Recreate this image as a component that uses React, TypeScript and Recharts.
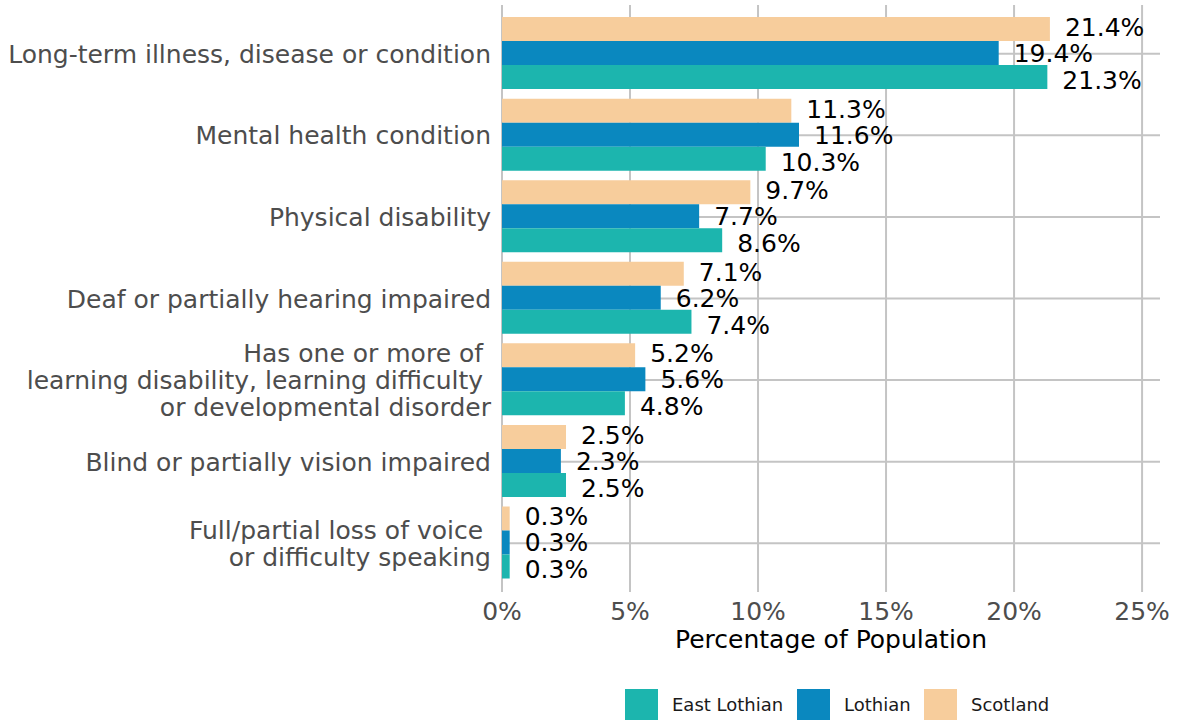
import React from "react";
import {
  BarChart,
  Bar,
  XAxis,
  YAxis,
  CartesianGrid,
  LabelList,
} from "recharts";

// Condition categories, top to bottom
const categories: string[] = [
  "Long-term illness, disease or condition",
  "Mental health condition",
  "Physical disability",
  "Deaf or partially hearing impaired",
  "Has one or more of \nlearning disability, learning difficulty \nor developmental disorder",
  "Blind or partially vision impaired",
  "Full/partial loss of voice \nor difficulty speaking",
];

// Percentage of population per area
const scotland: number[] = [21.4, 11.3, 9.7, 7.1, 5.2, 2.5, 0.3];
const lothian: number[] = [19.4, 11.6, 7.7, 6.2, 5.6, 2.3, 0.3];
const eastLothian: number[] = [21.3, 10.3, 8.6, 7.4, 4.8, 2.5, 0.3];

const xTicks: number[] = [0, 5, 10, 15, 20, 25];

const COLORS = {
  eastLothian: "#1CB5AE",
  lothian: "#0A88BF",
  scotland: "#F7CD9C",
};

const FONT = "'DejaVu Sans', sans-serif";
const TEXT_SIZE = 25;

const data = categories.map((category, i) => ({
  category,
  scotland: scotland[i],
  lothian: lothian[i],
  eastLothian: eastLothian[i],
}));

const legendItems = [
  { name: "East Lothian", color: COLORS.eastLothian, keyLeft: 625, textLeft: 672 },
  { name: "Lothian", color: COLORS.lothian, keyLeft: 797, textLeft: 844 },
  { name: "Scotland", color: COLORS.scotland, keyLeft: 924, textLeft: 971 },
];

const CategoryTick = (props: any) => {
  const { x, y, payload } = props;
  const lines: string[] = String(payload.value).split("\n");
  const lineHeight = 27;
  const firstDy = -((lines.length - 1) / 2) * lineHeight + 9;
  return (
    <text
      x={x}
      y={y}
      textAnchor="end"
      fill="#4D4D4D"
      fontSize={TEXT_SIZE}
      fontFamily={FONT}
      style={{ whiteSpace: "pre" }}
    >
      {lines.map((line, i) => (
        <tspan key={i} x={x} dy={i === 0 ? firstDy : lineHeight}>
          {line}
        </tspan>
      ))}
    </text>
  );
};

const fmtPct = (v: any) => `${Number(v).toFixed(1)}%`;

const valueLabelProps = {
  position: "right" as const,
  offset: 15,
  fill: "#000000",
  fontSize: TEXT_SIZE,
  fontFamily: FONT,
  formatter: fmtPct,
};

export default function App() {
  return (
    <div
      style={{
        position: "absolute",
        left: 0,
        top: 0,
        width: 1179,
        height: 720,
        overflow: "hidden",
        background: "#ffffff",
        fontFamily: FONT,
      }}
    >
      <BarChart
        width={1179}
        height={720}
        data={data}
        layout="vertical"
        margin={{ top: 5, right: 19, bottom: 68, left: 0 }}
        barCategoryGap="5%"
        barGap={0}
      >
        <CartesianGrid stroke="#C4C4C4" strokeWidth={2} syncWithTicks />
        <XAxis
          type="number"
          domain={[0, 25.7]}
          ticks={xTicks}
          allowDataOverflow
          tickFormatter={(v: number) => `${v}%`}
          axisLine={false}
          tickLine={false}
          tickSize={0}
          tickMargin={10}
          height={60}
          tick={{ fill: "#4D4D4D", fontSize: TEXT_SIZE, fontFamily: FONT }}
          label={{
            value: "Percentage of Population",
            position: "insideBottom",
            offset: 4,
            fill: "#000000",
            fontSize: TEXT_SIZE,
            fontFamily: FONT,
          }}
        />
        <YAxis
          type="category"
          dataKey="category"
          width={502}
          interval={0}
          axisLine={false}
          tickLine={false}
          tickSize={0}
          tickMargin={11}
          padding={{ top: 8, bottom: 8 }}
          tick={<CategoryTick />}
        />
        <Bar dataKey="scotland" name="Scotland" fill={COLORS.scotland} isAnimationActive={false}>
          <LabelList dataKey="scotland" {...valueLabelProps} dy={-2} />
        </Bar>
        <Bar dataKey="lothian" name="Lothian" fill={COLORS.lothian} isAnimationActive={false}>
          <LabelList dataKey="lothian" {...valueLabelProps} />
        </Bar>
        <Bar dataKey="eastLothian" name="East Lothian" fill={COLORS.eastLothian} isAnimationActive={false}>
          <LabelList dataKey="eastLothian" {...valueLabelProps} dy={3} />
        </Bar>
      </BarChart>
      {legendItems.map((item) => (
        <React.Fragment key={item.name}>
          <div
            style={{
              position: "absolute",
              left: item.keyLeft,
              top: 689,
              width: 33,
              height: 33,
              background: item.color,
            }}
          />
          <div
            style={{
              position: "absolute",
              left: item.textLeft,
              top: 694,
              fontSize: 18,
              lineHeight: "22px",
              color: "#1A1A1A",
              whiteSpace: "nowrap",
            }}
          >
            {item.name}
          </div>
        </React.Fragment>
      ))}
    </div>
  );
}
